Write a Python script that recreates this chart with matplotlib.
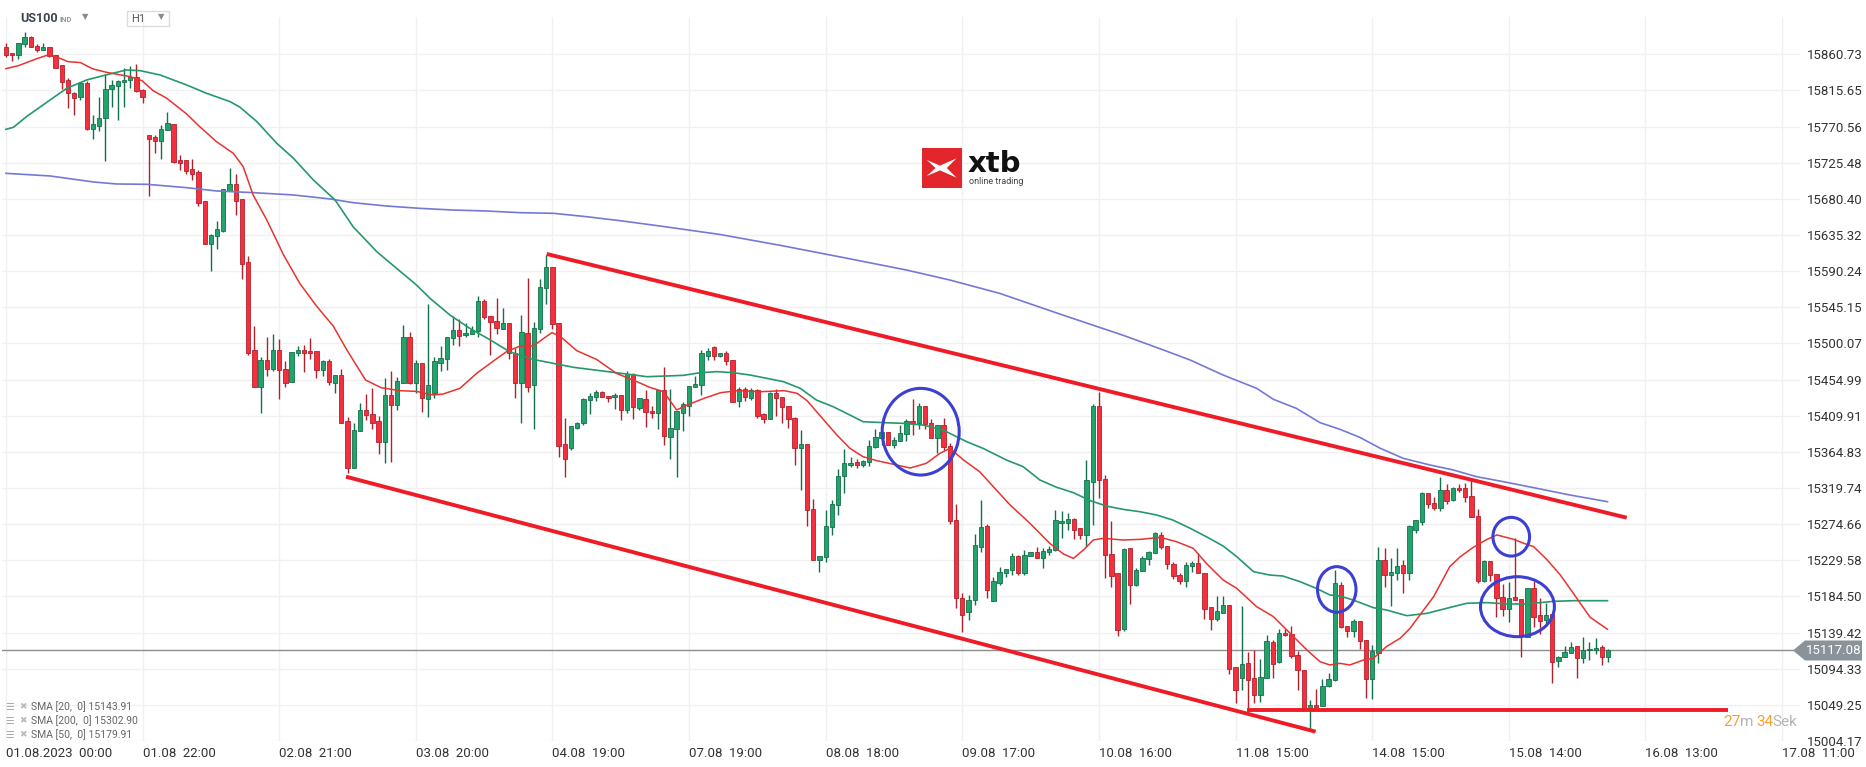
import matplotlib
matplotlib.use('Agg')
import matplotlib.pyplot as plt
import matplotlib.transforms as mtransforms
from matplotlib.patches import Ellipse, Rectangle, Polygon

plt.rcParams['font.family'] = ['Roboto', 'DejaVu Sans']

# ---- data (H1 bars from 01.08.2023 00:00) ----
opens = [
    15869.5, 15862.0, 15859.5, 15873.7, 15882.0, 15871.2, 15865.8, 15869.5, 15859.5, 15847.0,
    15828.3, 15812.5, 15807.1, 15824.6, 15768.0, 15771.0, 15781.8, 15817.1, 15821.3, 15825.8,
    15828.3, 15832.9, 15815.9, 15759.7, 15757.2, 15752.3, 15766.0, 15774.3, 15728.5, 15728.5,
    15717.3, 15713.6, 15677.4, 15623.8, 15633.7, 15640.8, 15690.7, 15698.6, 15679.9, 15601.3,
    15491.5, 15446.2, 15479.1, 15467.8, 15491.5, 15467.8, 15452.5, 15487.8, 15491.5, 15490.3,
    15490.3, 15466.6, 15477.8, 15451.1, 15460.3, 15402.9, 15344.3, 15390.4, 15416.6, 15411.6,
    15402.9, 15377.5, 15435.3, 15422.9, 15451.1, 15507.7, 15451.1, 15475.3, 15430.3, 15438.7,
    15476.1, 15480.2, 15506.4, 15516.8, 15510.2, 15511.4, 15515.6, 15553.0, 15533.9, 15527.6,
    15517.7, 15525.2, 15487.7, 15451.1, 15512.7, 15447.8, 15517.7, 15568.8, 15595.0, 15525.2,
    15374.2, 15369.2, 15395.0, 15400.4, 15429.1, 15432.8, 15439.1, 15434.1, 15432.8, 15435.3,
    15416.6, 15461.5, 15419.1, 15430.3, 15415.8, 15412.9, 15442.0, 15383.8, 15393.0, 15413.7,
    15421.6, 15445.3, 15447.8, 15484.0, 15495.2, 15484.0, 15487.7, 15479.0, 15427.9, 15443.3,
    15431.6, 15441.6, 15411.7, 15406.3, 15437.9, 15432.9, 15421.6, 15406.7, 15369.3, 15374.2,
    15293.2, 15229.5, 15233.3, 15271.5, 15298.1, 15334.3, 15348.0, 15351.8, 15348.0, 15351.8,
    15370.5, 15381.7, 15389.2, 15373.0, 15378.0, 15386.7, 15402.9, 15400.4, 15421.6, 15400.4,
    15381.7, 15397.9, 15371.7, 15279.8, 15182.6, 15165.1, 15180.1, 15246.2, 15272.4, 15179.2,
    15200.8, 15214.1, 15217.1, 15234.5, 15213.3, 15234.5, 15239.5, 15232.0, 15239.5, 15242.0,
    15275.7, 15275.7, 15280.7, 15269.5, 15260.7, 15326.8, 15421.6, 15330.6, 15237.0, 15213.3,
    15143.5, 15244.5, 15198.4, 15215.8, 15230.8, 15238.3, 15260.7, 15247.0, 15224.6, 15210.8,
    15203.3, 15222.1, 15225.8, 15214.1, 15170.9, 15155.9, 15163.4, 15173.4, 15096.1, 15082.3,
    15101.1, 15082.3, 15062.0, 15082.3, 15127.3, 15102.3, 15138.5, 15137.2, 15111.0, 15092.3,
    15045.7, 15049.5, 15048.2, 15073.2, 15079.9, 15198.4, 15147.2, 15141.0, 15153.5, 15129.8,
    15081.1, 15113.5, 15229.5, 15210.8, 15213.3, 15223.3, 15213.3, 15267.0, 15277.0, 15313.1,
    15300.7, 15294.4, 15316.9, 15304.4, 15319.4, 15319.4, 15309.4, 15284.4, 15203.4, 15228.3,
    15212.1, 15183.4, 15168.4, 15183.4, 15180.9, 15133.5, 15194.6, 15161.0, 15154.7, 15162.2,
    15103.6, 15108.6, 15113.5, 15122.3, 15107.3, 15117.3, 15117.3, 15121.0, 15108.6,
]
highs = [
    15875.3, 15862.0, 15875.3, 15888.2, 15883.6, 15873.7, 15874.5, 15869.5, 15859.5, 15847.0,
    15830.8, 15814.2, 15826.7, 15827.9, 15785.1, 15807.1, 15835.8, 15828.3, 15828.8, 15843.3,
    15846.2, 15848.7, 15817.5, 15759.7, 15760.1, 15772.6, 15788.4, 15774.3, 15735.2, 15728.5,
    15730.2, 15716.5, 15677.4, 15637.1, 15652.9, 15692.4, 15719.0, 15711.5, 15679.9, 15608.8,
    15521.9, 15482.8, 15508.2, 15511.9, 15505.3, 15478.2, 15489.0, 15496.5, 15497.8, 15506.5,
    15490.3, 15479.9, 15480.3, 15460.3, 15467.8, 15407.9, 15400.4, 15425.4, 15437.0, 15444.1,
    15409.6, 15456.6, 15465.3, 15458.6, 15522.7, 15513.9, 15479.0, 15475.3, 15548.9, 15482.7,
    15496.9, 15507.7, 15534.3, 15530.6, 15525.2, 15521.8, 15559.2, 15555.5, 15533.9, 15556.3,
    15543.9, 15525.2, 15494.4, 15535.5, 15581.7, 15526.8, 15580.0, 15610.4, 15595.0, 15525.2,
    15406.7, 15396.7, 15402.5, 15432.4, 15438.7, 15442.0, 15440.7, 15434.1, 15438.7, 15435.3,
    15465.3, 15462.8, 15431.6, 15442.0, 15421.6, 15441.6, 15470.3, 15443.3, 15416.2, 15426.6,
    15446.6, 15459.1, 15491.9, 15494.8, 15496.5, 15488.2, 15490.2, 15479.0, 15445.3, 15445.3,
    15444.1, 15442.8, 15413.7, 15439.1, 15442.8, 15432.9, 15421.6, 15408.7, 15391.7, 15374.2,
    15305.6, 15234.5, 15292.3, 15304.8, 15343.1, 15368.0, 15358.0, 15355.9, 15354.3, 15379.2,
    15392.9, 15391.7, 15390.0, 15383.0, 15397.9, 15405.4, 15430.4, 15425.4, 15421.6, 15405.4,
    15398.8, 15406.7, 15375.5, 15299.8, 15188.8, 15186.3, 15262.4, 15304.8, 15274.9, 15209.2,
    15220.8, 15218.3, 15238.3, 15235.8, 15242.0, 15239.5, 15245.8, 15244.5, 15247.0, 15291.9,
    15290.7, 15288.2, 15281.9, 15269.5, 15354.3, 15424.1, 15439.1, 15335.6, 15278.2, 15213.3,
    15244.5, 15244.5, 15219.6, 15234.5, 15240.8, 15264.5, 15264.5, 15247.0, 15227.0, 15213.3,
    15227.0, 15228.3, 15238.3, 15214.1, 15170.9, 15184.6, 15184.6, 15173.4, 15096.1, 15172.1,
    15114.8, 15117.3, 15106.0, 15136.0, 15129.7, 15143.5, 15143.5, 15147.2, 15116.0, 15092.3,
    15055.7, 15069.4, 15081.1, 15088.6, 15217.5, 15202.1, 15148.0, 15156.0, 15153.5, 15129.8,
    15123.5, 15245.8, 15244.5, 15232.1, 15244.5, 15229.5, 15273.2, 15279.5, 15314.4, 15313.1,
    15308.1, 15333.1, 15324.4, 15320.6, 15324.4, 15325.6, 15329.3, 15293.2, 15229.5, 15228.3,
    15212.1, 15199.6, 15202.1, 15257.0, 15180.9, 15194.6, 15203.4, 15182.2, 15175.9, 15162.2,
    15109.8, 15122.3, 15127.3, 15122.3, 15133.5, 15127.3, 15132.3, 15123.5, 15118.5,
]
lows = [
    15857.9, 15852.9, 15854.5, 15870.3, 15869.5, 15863.3, 15865.8, 15857.0, 15843.3, 15817.1,
    15794.2, 15785.5, 15803.8, 15766.4, 15755.6, 15765.6, 15728.1, 15795.5, 15778.4, 15795.5,
    15819.2, 15813.8, 15800.5, 15684.5, 15738.1, 15730.6, 15766.0, 15725.6, 15716.9, 15711.1,
    15704.4, 15672.0, 15623.8, 15590.9, 15618.4, 15639.1, 15690.7, 15660.4, 15580.9, 15485.3,
    15446.2, 15413.8, 15460.0, 15466.2, 15430.8, 15445.4, 15451.6, 15484.1, 15464.1, 15480.7,
    15457.4, 15460.0, 15448.7, 15438.7, 15400.4, 15338.9, 15344.3, 15390.4, 15404.6, 15393.8,
    15362.2, 15350.5, 15352.6, 15416.6, 15451.1, 15449.1, 15438.7, 15415.0, 15408.7, 15432.4,
    15465.3, 15466.5, 15498.5, 15497.3, 15508.5, 15511.4, 15508.5, 15530.6, 15485.7, 15511.4,
    15517.7, 15481.1, 15431.6, 15401.2, 15439.9, 15392.9, 15512.7, 15548.9, 15517.7, 15358.8,
    15333.9, 15366.7, 15393.8, 15397.9, 15411.6, 15427.9, 15432.8, 15427.0, 15417.9, 15404.2,
    15412.9, 15405.4, 15416.6, 15395.4, 15406.7, 15393.8, 15373.8, 15356.4, 15333.1, 15391.3,
    15410.0, 15445.3, 15435.4, 15479.8, 15479.8, 15482.8, 15473.6, 15426.6, 15420.4, 15427.9,
    15429.5, 15407.5, 15401.3, 15406.3, 15410.0, 15400.4, 15394.6, 15348.0, 15317.3, 15272.8,
    15229.5, 15215.4, 15227.9, 15261.1, 15285.7, 15313.1, 15345.5, 15344.3, 15345.5, 15346.8,
    15369.3, 15373.4, 15373.0, 15369.3, 15378.0, 15378.0, 15385.5, 15393.0, 15393.0, 15381.7,
    15363.0, 15366.7, 15274.4, 15170.1, 15140.1, 15155.1, 15173.8, 15239.9, 15182.6, 15179.2,
    15198.8, 15209.2, 15210.8, 15210.8, 15210.8, 15234.5, 15232.0, 15219.6, 15235.8, 15240.8,
    15257.0, 15267.0, 15255.7, 15255.7, 15245.8, 15273.2, 15306.9, 15207.1, 15195.9, 15134.7,
    15141.0, 15174.6, 15197.1, 15215.8, 15223.3, 15238.3, 15243.3, 15218.3, 15205.8, 15199.6,
    15195.9, 15214.6, 15213.3, 15155.9, 15142.2, 15153.4, 15163.4, 15087.3, 15051.2, 15067.4,
    15040.8, 15051.2, 15052.4, 15082.3, 15082.3, 15101.1, 15135.2, 15107.3, 15067.4, 15044.9,
    15019.6, 15047.0, 15048.2, 15071.9, 15078.6, 15144.7, 15133.5, 15134.3, 15118.5, 15057.4,
    15056.2, 15101.1, 15195.9, 15172.2, 15204.6, 15188.4, 15204.6, 15263.2, 15273.2, 15294.4,
    15291.9, 15290.7, 15299.4, 15303.2, 15314.4, 15301.9, 15283.2, 15200.9, 15202.1, 15203.4,
    15158.5, 15159.7, 15152.2, 15179.7, 15108.6, 15133.5, 15146.0, 15137.2, 15151.0, 15076.1,
    15096.1, 15108.6, 15113.5, 15082.4, 15101.1, 15104.8, 15112.3, 15098.6, 15102.3,
]
closes = [
    15859.5, 15859.5, 15875.3, 15882.0, 15869.5, 15865.8, 15869.5, 15858.7, 15844.1, 15825.8,
    15812.5, 15805.9, 15825.4, 15768.0, 15773.5, 15780.9, 15817.1, 15822.1, 15827.1, 15828.3,
    15832.1, 15815.4, 15807.1, 15755.6, 15752.3, 15767.2, 15774.7, 15726.9, 15725.6, 15715.7,
    15711.9, 15675.7, 15623.8, 15635.0, 15642.5, 15692.4, 15698.6, 15678.2, 15599.6, 15488.6,
    15446.2, 15479.1, 15467.8, 15491.5, 15466.6, 15450.4, 15489.0, 15491.5, 15488.6, 15487.8,
    15466.6, 15477.8, 15451.6, 15460.3, 15400.4, 15344.3, 15392.1, 15416.6, 15410.4, 15401.2,
    15376.7, 15435.3, 15422.9, 15452.8, 15507.7, 15451.1, 15475.3, 15431.6, 15447.8, 15477.8,
    15481.5, 15507.7, 15516.8, 15508.9, 15512.7, 15516.8, 15553.0, 15532.6, 15526.4, 15518.9,
    15525.2, 15487.7, 15451.1, 15513.9, 15446.2, 15519.3, 15570.1, 15595.0, 15523.9, 15372.6,
    15355.5, 15396.7, 15400.4, 15430.3, 15434.5, 15439.1, 15432.8, 15431.6, 15435.3, 15416.6,
    15461.5, 15420.4, 15431.6, 15414.1, 15412.9, 15441.6, 15385.0, 15394.2, 15416.2, 15424.1,
    15446.6, 15449.1, 15487.7, 15490.2, 15484.0, 15487.7, 15477.8, 15427.0, 15443.3, 15432.9,
    15441.6, 15410.0, 15406.3, 15437.9, 15431.6, 15420.4, 15405.4, 15369.3, 15374.2, 15292.3,
    15229.5, 15234.5, 15272.8, 15299.4, 15334.3, 15350.5, 15350.5, 15348.0, 15353.0, 15371.7,
    15383.0, 15389.2, 15373.0, 15379.2, 15388.0, 15402.9, 15400.4, 15421.6, 15399.2, 15381.7,
    15397.9, 15370.5, 15278.2, 15182.6, 15161.4, 15180.1, 15248.6, 15271.1, 15192.5, 15204.2,
    15215.4, 15218.3, 15234.5, 15213.3, 15235.8, 15239.5, 15232.0, 15240.8, 15243.3, 15279.4,
    15278.2, 15280.7, 15267.0, 15260.7, 15329.3, 15421.6, 15329.3, 15235.8, 15209.6, 15142.2,
    15243.3, 15198.4, 15217.1, 15232.0, 15239.5, 15263.2, 15245.8, 15224.6, 15209.6, 15203.3,
    15223.3, 15225.8, 15213.3, 15169.2, 15155.9, 15165.9, 15173.4, 15094.4, 15067.4, 15099.8,
    15079.8, 15062.0, 15083.6, 15128.5, 15099.8, 15138.5, 15136.0, 15109.8, 15092.3, 15045.7,
    15049.5, 15047.0, 15073.2, 15081.1, 15200.9, 15146.0, 15141.0, 15153.5, 15128.5, 15081.1,
    15116.0, 15229.5, 15210.8, 15214.6, 15222.1, 15213.3, 15272.0, 15279.5, 15313.1, 15299.4,
    15294.4, 15316.9, 15303.2, 15319.4, 15316.9, 15308.1, 15283.2, 15203.4, 15228.3, 15210.8,
    15182.2, 15168.4, 15182.2, 15179.7, 15134.7, 15194.6, 15158.5, 15153.5, 15161.0, 15102.3,
    15108.6, 15114.8, 15121.0, 15107.3, 15117.3, 15118.5, 15119.8, 15108.6, 15117.3,
]

# moving averages, read at points along each curve (bar index, value)
sma20_x = [0, 2, 5, 6.6, 8, 10, 12, 14, 16.2, 20, 21.9, 23.7, 25.9, 29.1, 31.2, 33.9, 36.6,
           38.2, 39.8, 42, 44.7, 47.3, 50, 52.7, 54.9, 57.9, 60.4, 63.4, 66.1, 68.8, 70.4,
           73.1, 75.8, 78.5, 80.6, 82.8, 84.9, 86.6, 87.9, 89.2, 91.9, 95.1, 98.3, 101.6,
           103.7, 105.9, 108, 109.7, 112.4, 115.1, 117.9, 121.6, 125.3, 127.4, 129, 131.7,
           133.8, 135.9, 138, 140.2, 143.4, 145.6, 148.2, 150.4, 152, 154.2, 156.8, 158.5,
           161.7, 164.9, 168.1, 170.3, 171.9, 173.5, 175.1, 176.7, 179.9, 182.6, 185.9,
           188.5, 191.2, 193.3, 196, 198.2, 201.4, 204.1, 206.8, 209.5, 211.6, 213.2, 214.8,
           216.4, 218.6, 220.2, 222.3, 224.5, 226.1, 227.7, 229.9, 232.5, 234.2, 236.3,
           238.5, 240.1, 242.8, 244.4, 246, 248.1, 250.3, 252.4, 255.1, 257.9]
sma20_y = [15842.9, 15846.6, 15855.4, 15859.5, 15857.9, 15851.6, 15850.4, 15842.5, 15838.3,
           15832.9, 15827.9, 15815.4, 15805.9, 15786.3, 15770.5, 15751.8, 15737.3, 15720.6,
           15685.3, 15654.1, 15610.5, 15575.1, 15546.8, 15521.8, 15491.9, 15454.5, 15444.9,
           15441.2, 15440.3, 15435.8, 15437.0, 15444.1, 15462.8, 15478.2, 15489.8, 15496.9,
           15496.9, 15506.4, 15513.5, 15509.4, 15491.1, 15480.2, 15462.8, 15452.4, 15445.3,
           15439.9, 15417.1, 15423.3, 15431.6, 15438.7, 15441.2, 15439.9, 15441.2, 15437.9,
           15428.7, 15404.6, 15385.9, 15369.3, 15358.9, 15353.9, 15348.5, 15344.7, 15350.5,
           15363.0, 15369.3, 15354.7, 15340.1, 15325.6, 15298.6, 15275.7, 15250.7, 15237.4,
           15232.0, 15242.4, 15254.9, 15257.0, 15254.9, 15255.7, 15258.2, 15252.8, 15244.5,
           15225.8, 15205.0, 15194.6, 15171.7, 15159.3, 15138.5, 15117.7, 15103.1, 15099.0,
           15101.1, 15099.0, 15105.2, 15107.3, 15121.9, 15132.3, 15144.7, 15161.4, 15184.2,
           15221.7, 15234.1, 15245.8, 15255.7, 15261.2, 15255.7, 15250.8, 15246.6, 15230.8,
           15211.3, 15188.4, 15158.5, 15143.5]

sma50_x = [0, 1.2, 3.3, 7.1, 9.8, 13, 16.7, 19.4, 21.6, 24.8, 29.1, 32.3, 36.1, 37.7, 40.4,
           43.6, 46.3, 49.5, 53, 55.9, 59.7, 62.9, 66.1, 68.3, 71.5, 74.7, 78, 81.1, 84.9,
           88.1, 91.4, 95.7, 100, 103.2, 106.4, 109.1, 111.8, 114.5, 117.1, 119.8, 122.5,
           125.2, 127.9, 130.5, 133.2, 135.9, 138, 141.3, 144.5, 147.7, 150.9, 154.7, 157.4,
           161.1, 163.8, 166.5, 169.2, 171.9, 174.6, 177.2, 179.9, 182.6, 185.3, 187.9, 190.7,
           193.3, 196, 198.2, 200.9, 203.5, 205.6, 208.4, 211, 213.2, 214.8, 216.9, 220.2,
           222.3, 225.6, 228.8, 232, 235.2, 238.4, 241.7, 244.9, 249.2, 252.4, 257.9]
sma50_y = [15767.2, 15769.7, 15783.0, 15803.8, 15818.4, 15828.8, 15836.2, 15841.2, 15840.4,
           15835.0, 15822.5, 15812.1, 15801.7, 15794.7, 15776.8, 15749.8, 15731.0, 15704.0,
           15679.0, 15645.7, 15614.6, 15593.8, 15573.0, 15556.3, 15535.5, 15518.9, 15504.4,
           15489.8, 15480.2, 15475.3, 15470.3, 15466.1, 15461.9, 15458.6, 15459.5, 15460.3,
           15463.6, 15464.9, 15463.6, 15460.7, 15456.6, 15452.4, 15444.1, 15429.5, 15421.2,
           15410.8, 15402.5, 15401.3, 15400.4, 15398.3, 15392.1, 15377.6, 15369.0, 15354.7,
           15346.4, 15329.7, 15320.6, 15313.9, 15304.0, 15297.3, 15293.1, 15290.2, 15286.1,
           15279.8, 15269.5, 15259.0, 15247.4, 15234.1, 15215.4, 15211.2, 15210.0, 15202.9,
           15194.6, 15186.3, 15185.1, 15180.1, 15170.5, 15167.6, 15160.5, 15163.4, 15169.7,
           15175.9, 15176.8, 15175.1, 15175.1, 15178.4, 15179.2, 15179.2]

sma200_x = [0, 7.1, 14.1, 17.8, 22.7, 29.1, 33.9, 39.8, 46.3, 52.2, 55.9, 61.3, 66.7, 72,
            77.4, 82.8, 88.2, 93.5, 98.9, 105.3, 115, 125, 135, 145, 152, 160, 170, 180,
            186.4, 190.7, 196, 201.4, 204.1, 207.8, 211.6, 214.8, 218, 221.3, 225, 229.3,
            233.1, 236.8, 241.1, 246.5, 251.8, 257.9]
sma200_y = [15712.3, 15709.0, 15701.5, 15699.0, 15698.6, 15694.4, 15690.3, 15688.2, 15685.3,
            15680.3, 15675.7, 15671.5, 15668.6, 15666.5, 15665.3, 15663.2, 15662.4, 15658.2,
            15653.2, 15646.6, 15636.0, 15622.0, 15607.0, 15591.7, 15579.2, 15562.6, 15536.0,
            15510.0, 15491.9, 15479.4, 15460.7, 15444.1, 15430.4, 15419.1, 15401.3, 15393.0,
            15383.0, 15369.3, 15356.8, 15348.5, 15342.2, 15333.9, 15327.7, 15319.4, 15311.1,
            15302.7]

# hand-drawn channel: (bar, price) of the end points
upper_line = [(87.07, 15611.7), (261.0, 15282.7)]
lower_line = [(54.75, 15333.9), (210.9, 15015.8)]
support_line = [(199.9, 15042.8), (277.3, 15042.8)]
# circles: centre bar, centre price, width in bars, height in price
circles = [(147.3, 15390.0, 12.4, 108.1),
           (214.3, 15193.2, 6.2, 56.9),
           (242.4, 15259.0, 5.9, 48.3),
           (243.4, 15171.7, 11.9, 74.8)]

y_ticks = [15004.17, 15049.25, 15094.33, 15139.42, 15184.50, 15229.58, 15274.66,
           15319.74, 15364.83, 15409.91, 15454.99, 15500.07, 15545.15, 15590.24,
           15635.32, 15680.40, 15725.48, 15770.56, 15815.65, 15860.73]
x_tick_pos = [0, 22, 44, 66, 88, 110, 132, 154, 176, 198, 220, 242, 264, 286]
x_tick_labels = ['01.08.2023  00:00', '01.08  22:00', '02.08  21:00', '03.08  20:00',
                 '04.08  19:00', '07.08  19:00', '08.08  18:00', '09.08  17:00',
                 '10.08  16:00', '11.08  15:00', '14.08  15:00', '15.08  14:00',
                 '16.08  13:00', '17.08  11:00']
last_price = 15117.08
legend_rows = ['SMA [20,  0] 15143.91', 'SMA [200,  0] 15302.90', 'SMA [50,  0] 15179.91']

W, H = 1866, 767
UP_FILL, UP_EDGE = '#21a36b', '#13704a'
DN_FILL, DN_EDGE = '#f4303e', '#b3202b'


def fx(x):
    return x / W


def fy(y):
    return 1 - y / H


def main():
    fig = plt.figure(figsize=(W / 100, H / 100), dpi=100)
    fig.patch.set_facecolor('white')
    ax = fig.add_axes([fx(2), fy(741), (1800 - 2) / W, (741 - 17) / H])
    ax.set_xlim(-0.64, 288.9)
    ax.set_ylim(15004.17, 15907.3)
    for s in ax.spines.values():
        s.set_visible(False)

    ax.set_yticks(y_ticks)
    ax.set_yticklabels(['%.2f' % v for v in y_ticks])
    ax.yaxis.tick_right()
    ax.set_xticks(x_tick_pos)
    ax.set_xticklabels(x_tick_labels)
    for lbl in ax.get_xticklabels():
        lbl.set_ha('left')
    ax.tick_params(axis='both', length=0, labelsize=9.5, labelcolor='#333333')
    ax.tick_params(axis='y', pad=5)
    ax.tick_params(axis='x', pad=4)
    ax.grid(True, color='#f0f0f0', lw=1)
    ax.set_axisbelow(True)

    # current price line
    ax.axhline(last_price, color='#8e8e8e', lw=1, zorder=1)

    # candles
    n = len(opens)
    for i in range(n):
        o, h, l, c = opens[i], highs[i], lows[i], closes[i]
        up = c >= o
        fill = UP_FILL if up else DN_FILL
        edge = UP_EDGE if up else DN_EDGE
        ax.vlines(i, l, h, color=edge, lw=1.0, zorder=2)
        body = max(abs(c - o), 1.0)
        ax.bar(i, body, bottom=min(o, c), width=0.7, color=fill,
               edgecolor=edge, linewidth=0.6, zorder=3)

    # moving averages
    ax.plot(sma200_x, sma200_y, color='#7379d8', lw=1.2, zorder=4)
    ax.plot(sma50_x, sma50_y, color='#25996a', lw=1.2, zorder=4)
    ax.plot(sma20_x, sma20_y, color='#e8332f', lw=1.1, zorder=4)

    # channel lines
    for pts in (upper_line, lower_line, support_line):
        ax.plot([p[0] for p in pts], [p[1] for p in pts], color='#ef1c27',
                lw=2.8, solid_capstyle='butt', zorder=5, clip_on=False)

    for cx, cy, w, h in circles:
        ax.add_patch(Ellipse((cx, cy), w, h, fill=False, edgecolor='#3b3fd2',
                             lw=2.2, zorder=6))

    # price tag on the right axis (drawn in pixels)
    yd = ax.transData.transform((0, last_price))[1]
    fig.patches.append(Polygon([(1793, yd), (1805, yd + 10), (1862, yd + 10),
                                (1862, yd - 10), (1805, yd - 10)], closed=True,
                               transform=mtransforms.IdentityTransform(),
                               fc='#8a9399', ec='none'))
    fig.text(fx(1806), yd / H, '%.2f' % last_price, ha='left', va='center',
             color='white', fontsize=9.5)

    # header
    fig.text(fx(20), fy(19), 'US100', fontsize=9, fontweight='bold',
             color='#3c4450', va='center')
    fig.text(fx(60), fy(19), 'IND', fontsize=5.5, fontweight='bold',
             color='#9a9a9a', va='center')
    fig.text(fx(82), fy(17), '\u25bc', fontsize=6, color='#8a8a8a', va='center',
             family=['DejaVu Sans'])
    fig.patches.append(Rectangle((fx(127), fy(26)), 42 / W, 15 / H,
                                 transform=fig.transFigure, fill=False,
                                 ec='#dcdcdc', lw=1))
    fig.text(fx(131), fy(19.5), 'H1', fontsize=8, color='#555555', va='center')
    fig.text(fx(158), fy(17), '\u25bc', fontsize=6, color='#8a8a8a', va='center',
             family=['DejaVu Sans'])

    # logo
    fig.patches.append(Rectangle((fx(922), fy(188)), 40 / W, 40 / H,
                                 transform=fig.transFigure, fc='#e3262b', ec='none'))
    shape = [(0.12, 0.30), (0.45, 0.44), (0.86, 0.26), (0.62, 0.50), (0.86, 0.74),
             (0.45, 0.56), (0.12, 0.70), (0.34, 0.50)]
    fig.patches.append(Polygon([(fx(922 + 40 * a), fy(148 + 40 * b)) for a, b in shape],
                               closed=True, transform=fig.transFigure,
                               fc='white', ec='none'))
    fig.text(fx(968), fy(172), 'xtb', fontsize=21, fontweight='bold', color='#111111',
             va='baseline', family=['DejaVu Sans'])
    fig.text(fx(969), fy(182), 'online trading', fontsize=6.5, color='#444444',
             va='center')

    # indicator legend
    for k, row in enumerate(legend_rows):
        y = 707 + 14 * k
        fig.text(fx(5), fy(y), '\u2630', fontsize=7, color='#aaaaaa', va='center',
                 family=['DejaVu Sans'])
        fig.text(fx(19), fy(y), '\u2716', fontsize=6.5, color='#bbbbbb', va='center',
                 family=['DejaVu Sans'])
        fig.text(fx(31), fy(y), row, fontsize=7.5, color='#666666', va='center')

    # candle timer
    for txt, x, col in (('27', 1723, '#f7a030'), ('m', 1740, '#b5b5b5'),
                        ('34', 1756, '#f7a030'), ('Sek', 1772, '#b5b5b5')):
        fig.text(fx(x), fy(722), txt, fontsize=11, color=col, va='center')

    fig.savefig('out.png', dpi=100, facecolor='white')


if __name__ == '__main__':
    main()
